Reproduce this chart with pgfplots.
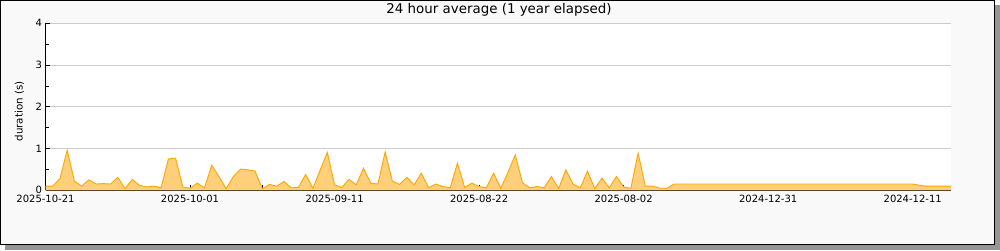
\documentclass[border=0pt]{standalone}
\usepackage{fontspec}
\setmainfont{DejaVu Sans}
\usepackage{pgfplots}
\pgfplotsset{compat=1.18}
\usepackage{pgfplotstable}
\definecolor{fillc}{RGB}{255,207,122}
\definecolor{linec}{RGB}{255,165,0}
\definecolor{bgc}{RGB}{249,249,249}
\definecolor{gridc}{RGB}{204,204,204}
\definecolor{shadowc}{RGB}{150,150,150}

\pgfplotstableread{
x y
0 0.10
1 0.10
2 0.28
3 0.96
4 0.22
5 0.10
6 0.25
7 0.15
8 0.16
9 0.15
10 0.31
11 0.04
12 0.26
13 0.12
14 0.08
15 0.10
16 0.06
17 0.75
18 0.77
19 0.08
20 0.05
21 0.17
22 0.06
23 0.60
24 0.33
25 0.04
26 0.33
27 0.51
28 0.49
29 0.46
30 0.04
31 0.14
32 0.10
33 0.21
34 0.06
35 0.07
36 0.38
37 0.05
38 0.48
39 0.91
40 0.13
41 0.07
42 0.26
43 0.13
44 0.53
45 0.17
46 0.15
47 0.92
48 0.22
49 0.14
50 0.31
51 0.13
52 0.41
53 0.06
54 0.15
55 0.09
56 0.06
57 0.65
58 0.07
59 0.17
60 0.09
61 0.06
62 0.41
63 0.05
64 0.43
65 0.85
66 0.18
67 0.06
68 0.09
69 0.06
70 0.33
71 0.04
72 0.49
73 0.15
74 0.06
75 0.46
76 0.04
77 0.29
78 0.06
79 0.33
80 0.08
81 0.05
82 0.89
83 0.10
84 0.10
85 0.05
86 0.05
87 0.15
90 0.15
100 0.15
110 0.15
120 0.15
121 0.12
122 0.10
125.3 0.10
}\datatable

\begin{document}
\begin{tikzpicture}
\useasboundingbox (0pt,0pt) rectangle (1000pt,250pt);
\fill[shadowc] (5pt,0pt) rectangle (1000pt,245pt);
\fill[bgc] (0.5pt,6pt) rectangle (994pt,249.5pt);
\draw[black, line width=1pt] (0.5pt,6pt) rectangle (994pt,249.5pt);
\begin{axis}[
  at={(45.5pt,59.7pt)}, anchor=south west,
  scale only axis, width=905.5pt, height=167pt,
  xmin=0, xmax=125.3, ymin=0, ymax=4,
  axis lines*=left,
  axis line style={black, line width=1pt},
  axis background/.style={fill=white},
  tick align=inside,
  major tick length=5pt, minor tick length=3pt,
  tick style={black, line width=0.8pt},
  ytick={0,1,2,3,4},
  minor ytick={0.5,1.5,2.5,3.5},
  xtick={0,10,...,120},
  xticklabels={2025-10-21,,2025-10-01,,2025-09-11,,2025-08-22,,2025-08-02,,2024-12-31,,2024-12-11},
  ymajorgrids,
  grid style={gridc, line width=0.9pt},
  ticklabel style={font=\fontsize{10}{12}\selectfont},
  xticklabel style={yshift=-1pt},
  /pgf/number format/assume math mode=true,
]
\addplot[draw=none, fill=fillc] table[x=x,y=y] {\datatable} \closedcycle;
\addplot[linec, line width=0.9pt, mark=none] table[x=x,y=y] {\datatable};
\end{axis}
\node[font=\fontsize{13.4}{16}\selectfont] at (499pt,239.7pt) {24 hour average (1 year elapsed)};
\node[rotate=90, font=\fontsize{10.3}{12}\selectfont] at (19.5pt,138.5pt) {duration (s)};
\end{tikzpicture}
\end{document}
